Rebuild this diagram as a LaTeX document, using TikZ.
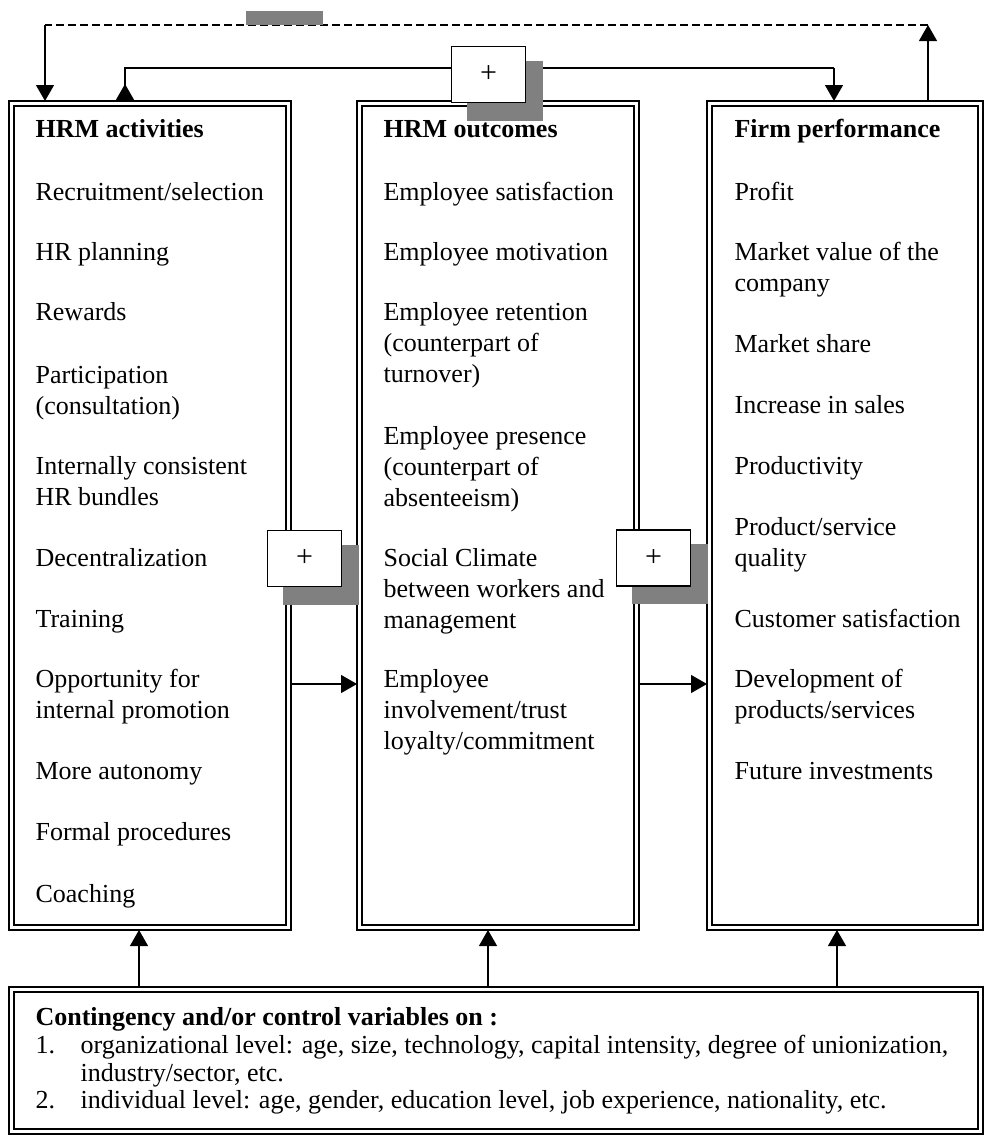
\documentclass[tikz,border=0pt]{standalone}
\usepackage{fontspec}
\setmainfont{Liberation Serif}
\usetikzlibrary{arrows.meta}
\definecolor{shadowgray}{RGB}{128,128,128}

% double frame: thin outer/inner lines, heavy top (outer) and heavy right/bottom (inner)
\newcommand\panelframe[1]{%
  \draw[line width=0.6pt] (#1.north west) rectangle (#1.south east);
  \draw[line width=0.6pt] ([shift={(5,5)}]#1.north west) rectangle ([shift={(-5,-5)}]#1.south east);
  \draw[line width=1.3pt] ([shift={(-5,5)}]#1.north east) -- ([shift={(-5,-5)}]#1.south east) -- ([shift={(5,-5)}]#1.south west);
  \draw[line width=1.3pt] (#1.north west) -- (#1.north east);
}
% gray offset shadow behind a plus box centred at #1
\newcommand\plusshadow[1]{%
  \fill[shadowgray] ([shift={(-22,-14)}]#1) rectangle ([shift={(54,46)}]#1);
}

\begin{document}
\begin{tikzpicture}[x=0.5pt,y=-0.5pt,
  tip/.style={-{Triangle[length=8pt,width=9pt]}},
  panel/.style={draw=none,inner sep=0pt,outer sep=0pt},
  % multi-line texts are anchored on the baseline of their last line
  txt/.style={anchor=base west,inner sep=0pt,align=left,font=\fontsize{13pt}{15.5pt}\selectfont},
  head/.style={txt,font=\fontsize{13pt}{15.5pt}\selectfont\bfseries},
  ctxt/.style={anchor=base west,inner sep=0pt,align=left,font=\fontsize{13pt}{13.8pt}\selectfont},
  plusbox/.style={draw,fill=white,line width=0.8pt,minimum width=37pt,minimum height=28pt,inner sep=0pt,font=\fontsize{15pt}{16pt}\selectfont},
  line width=0.6pt]
\useasboundingbox (0,0) rectangle (984,1135);

% ---- panels ----
\node[panel,minimum width=141pt,minimum height=414.5pt] (act)  at (150,515.5) {};
\node[panel,minimum width=141pt,minimum height=414.5pt] (outc) at (498,515.5) {};
\node[panel,minimum width=138pt,minimum height=414.5pt] (perf) at (845,515.5) {};
\node[panel,minimum width=487pt,minimum height=73.5pt] (ctrl) at (496,1060.5) {};
\panelframe{act}
\panelframe{outc}
\panelframe{perf}
\panelframe{ctrl}

% ---- HRM activities ----
\node[head] (a0) at (35,137) {HRM activities};
\node[txt] (a1) at (35,200) {Recruitment/selection};
\node[txt] (a2) at (35,260) {HR planning};
\node[txt] (a3) at (35,320) {Rewards};
\node[txt] (a4) at (35,414) {Participation\\(consultation)};
\node[txt] (a5) at (35,505) {Internally consistent\\HR bundles};
\node[txt] (a6) at (35,566) {Decentralization};
\node[txt] (a7) at (35,627) {Training};
\node[txt] (a8) at (35,718) {Opportunity for\\internal promotion};
\node[txt] (a9) at (35,779) {More autonomy};
\node[txt] (a10) at (35,840) {Formal procedures};
\node[txt] (a11) at (35,902) {Coaching};

% ---- HRM outcomes ----
\node[head] (o0) at (383,137) {HRM outcomes};
\node[txt] (o1) at (383,200) {Employee satisfaction};
\node[txt] (o2) at (383,260) {Employee motivation};
\node[txt] (o3) at (383,382) {Employee retention\\(counterpart of\\turnover)};
\node[txt] (o4) at (383,506) {Employee presence\\(counterpart of\\absenteeism)};
\node[txt] (o5) at (383,628) {Social Climate\\between workers and\\management};
\node[txt] (o6) at (383,749) {Employee\\involvement/trust\\loyalty/commitment};

% ---- Firm performance ----
\node[head] (f0) at (734,137) {Firm performance};
\node[txt] (f1) at (734,200) {Profit};
\node[txt] (f2) at (734,291) {Market value of the\\company};
\node[txt] (f3) at (734,352) {Market share};
\node[txt] (f4) at (734,413) {Increase in sales};
\node[txt] (f5) at (734,474) {Productivity};
\node[txt] (f6) at (734,566) {Product/service\\quality};
\node[txt] (f7) at (734,627) {Customer satisfaction};
\node[txt] (f8) at (734,718) {Development of\\products/services};
\node[txt] (f9) at (734,779) {Future investments};

% ---- contingency variables ----
\node[ctxt,font=\fontsize{13pt}{13.8pt}\selectfont\bfseries] (c0) at (35,1025) {Contingency and/or control variables on :};
\node[ctxt] (c1n) at (35,1053) {1.};
\node[ctxt] (c1) at (80,1081) {organizational level: age, size, technology, capital intensity, degree of unionization,\\industry/sector, etc.};
\node[ctxt] (c2n) at (35,1108) {2.};
\node[ctxt] (c2) at (80,1108) {individual level: age, gender, education level, job experience, nationality, etc.};

% ---- feedback loop (top) ----
\coordinate (fbL) at (45,25);
\coordinate (fbR) at (928,25);
\draw[tip] (perf.north -| fbR) -- (fbR);
\draw[dashed,dash pattern=on 4pt off 2pt] (fbR) -- (fbL);
\draw[tip] (fbL) -- (act.north -| fbL);
\fill[shadowgray] (246,11) rectangle (323,25);

% ---- direct link activities -> performance ----
\coordinate (lnL) at (125,68);
\coordinate (lnR) at (834,68);
\draw (act.north -| lnL) -- (lnL) -- (lnR);
\draw[tip] (lnR) -- (perf.north -| lnR);
\draw[tip] (act.north -| lnL) -- ++(0,-17);

% ---- chain arrows ----
\coordinate (row) at (0,684);
\draw[tip] (act.east |- row) -- (outc.west |- row);
\draw[tip] (outc.east |- row) -- (perf.west |- row);

% ---- contingency arrows ----
\draw[tip] (ctrl.north -| 139,0) -- (act.south -| 139,0);
\draw[tip] (ctrl.north -| 488,0) -- (outc.south -| 488,0);
\draw[tip] (ctrl.north -| 837,0) -- (perf.south -| 837,0);

% ---- plus boxes with shadows ----
\coordinate (pc0) at (488.5,74.5);
\coordinate (pc1) at (304.5,558.5);
\coordinate (pc2) at (653.5,558);
\plusshadow{pc0}
\plusshadow{pc1}
\plusshadow{pc2}
\node[plusbox] (p0) at (pc0) {+};
\node[plusbox] (p1) at (pc1) {+};
\node[plusbox] (p2) at (pc2) {+};
\end{tikzpicture}
\end{document}
